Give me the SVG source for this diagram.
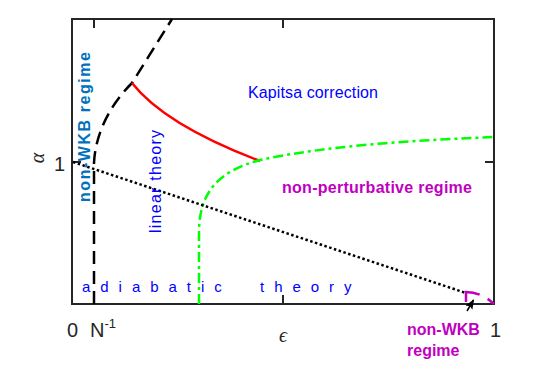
<svg xmlns="http://www.w3.org/2000/svg" width="545" height="382" viewBox="0 0 545 382">
<style>
.ax{fill:none;stroke:#262626;stroke-width:2}
.tick{fill:#262626;font-family:"Liberation Sans",Arial,sans-serif;font-size:20px}
.lbl{fill:#262626;font-family:"Liberation Serif","Times New Roman",serif;font-style:italic;font-size:20px}
.blue{fill:#0000ff;font-family:"Liberation Sans",Arial,sans-serif;font-size:16px}
.mag{fill:#bf00bf;font-family:"Liberation Sans",Arial,sans-serif;font-size:16px;font-weight:bold}
.wkb{fill:#0072bd;font-family:"Liberation Sans",Arial,sans-serif;font-size:16px;font-weight:bold}
.c{fill:none;stroke-width:2.5}
</style>
<defs>
<marker id="ah" markerWidth="10" markerHeight="8" refX="9" refY="4" orient="auto" markerUnits="userSpaceOnUse">
<path d="M0,0 L10,4 L0,8 L2,4 z" fill="#000"/>
</marker>
</defs>
<rect width="545" height="382" fill="#fff"/>
<g id="axes">
<rect class="ax" x="72" y="19" width="422" height="285"/>
<path class="ax" d="M94,304 V295 M283,304 V295 M94,19 V28 M283,19 V28 M72,162 H81 M494,162 H485"/>
<text class="tick" x="65" y="171" text-anchor="end">1</text>
<text class="tick" x="67" y="337">0</text>
<text class="tick" x="90" y="337">N<tspan dy="-9" font-size="13">-1</tspan></text>
<text class="tick" x="490" y="337">1</text>
<text class="lbl" x="283" y="342" text-anchor="middle">ϵ</text>
<text class="lbl" transform="translate(44,158) rotate(-90)" text-anchor="middle">α</text>
</g>
<g id="connectors">
<path class="c" stroke="#000" stroke-dasharray="13 7" d="M94,304 V163 C95,140 105,110 132,83 L172,19"/>
<path class="c" stroke="#ff0000" d="M132,83 Q165,125 260,161"/>
<path class="c" stroke="#00ff00" stroke-dasharray="10 4 3 4" d="M199,304 L199,230 C200,195 215,172 260,160 C330,145 420,140 494,137"/>
<path class="c" stroke="#000" stroke-dasharray="2.5 2.5" d="M73,162 L466,293"/>
<path class="c" stroke="#bf00bf" stroke-dasharray="24 9 12" d="M466,302 L466,292 Q481,292 494,304"/>
<path fill="none" stroke="#000" stroke-width="1.5" d="M467,311 L473.5,300" marker-end="url(#ah)"/>
</g>
<g id="kapitsa"><text class="blue" x="248" y="98" textLength="130">Kapitsa correction</text></g>
<g id="linear"><text class="blue" transform="translate(161,233) rotate(-90)" textLength="103">linear theory</text></g>
<g id="nonwkb-left"><text class="wkb" transform="translate(90,202) rotate(-90)" textLength="150">non-WKB regime</text></g>
<g id="nonpert"><text class="mag" x="282" y="193" textLength="190">non-perturbative regime</text></g>
<g id="adiabatic"><text class="blue" x="82" y="292" style="font-size:15px;letter-spacing:2.9px;white-space:pre">a d i a b a t i c     t h e o r y</text></g>
<g id="nonwkb-right">
<text class="mag" x="407" y="335">non-WKB</text>
<text class="mag" x="407" y="356">regime</text>
</g>
</svg>
